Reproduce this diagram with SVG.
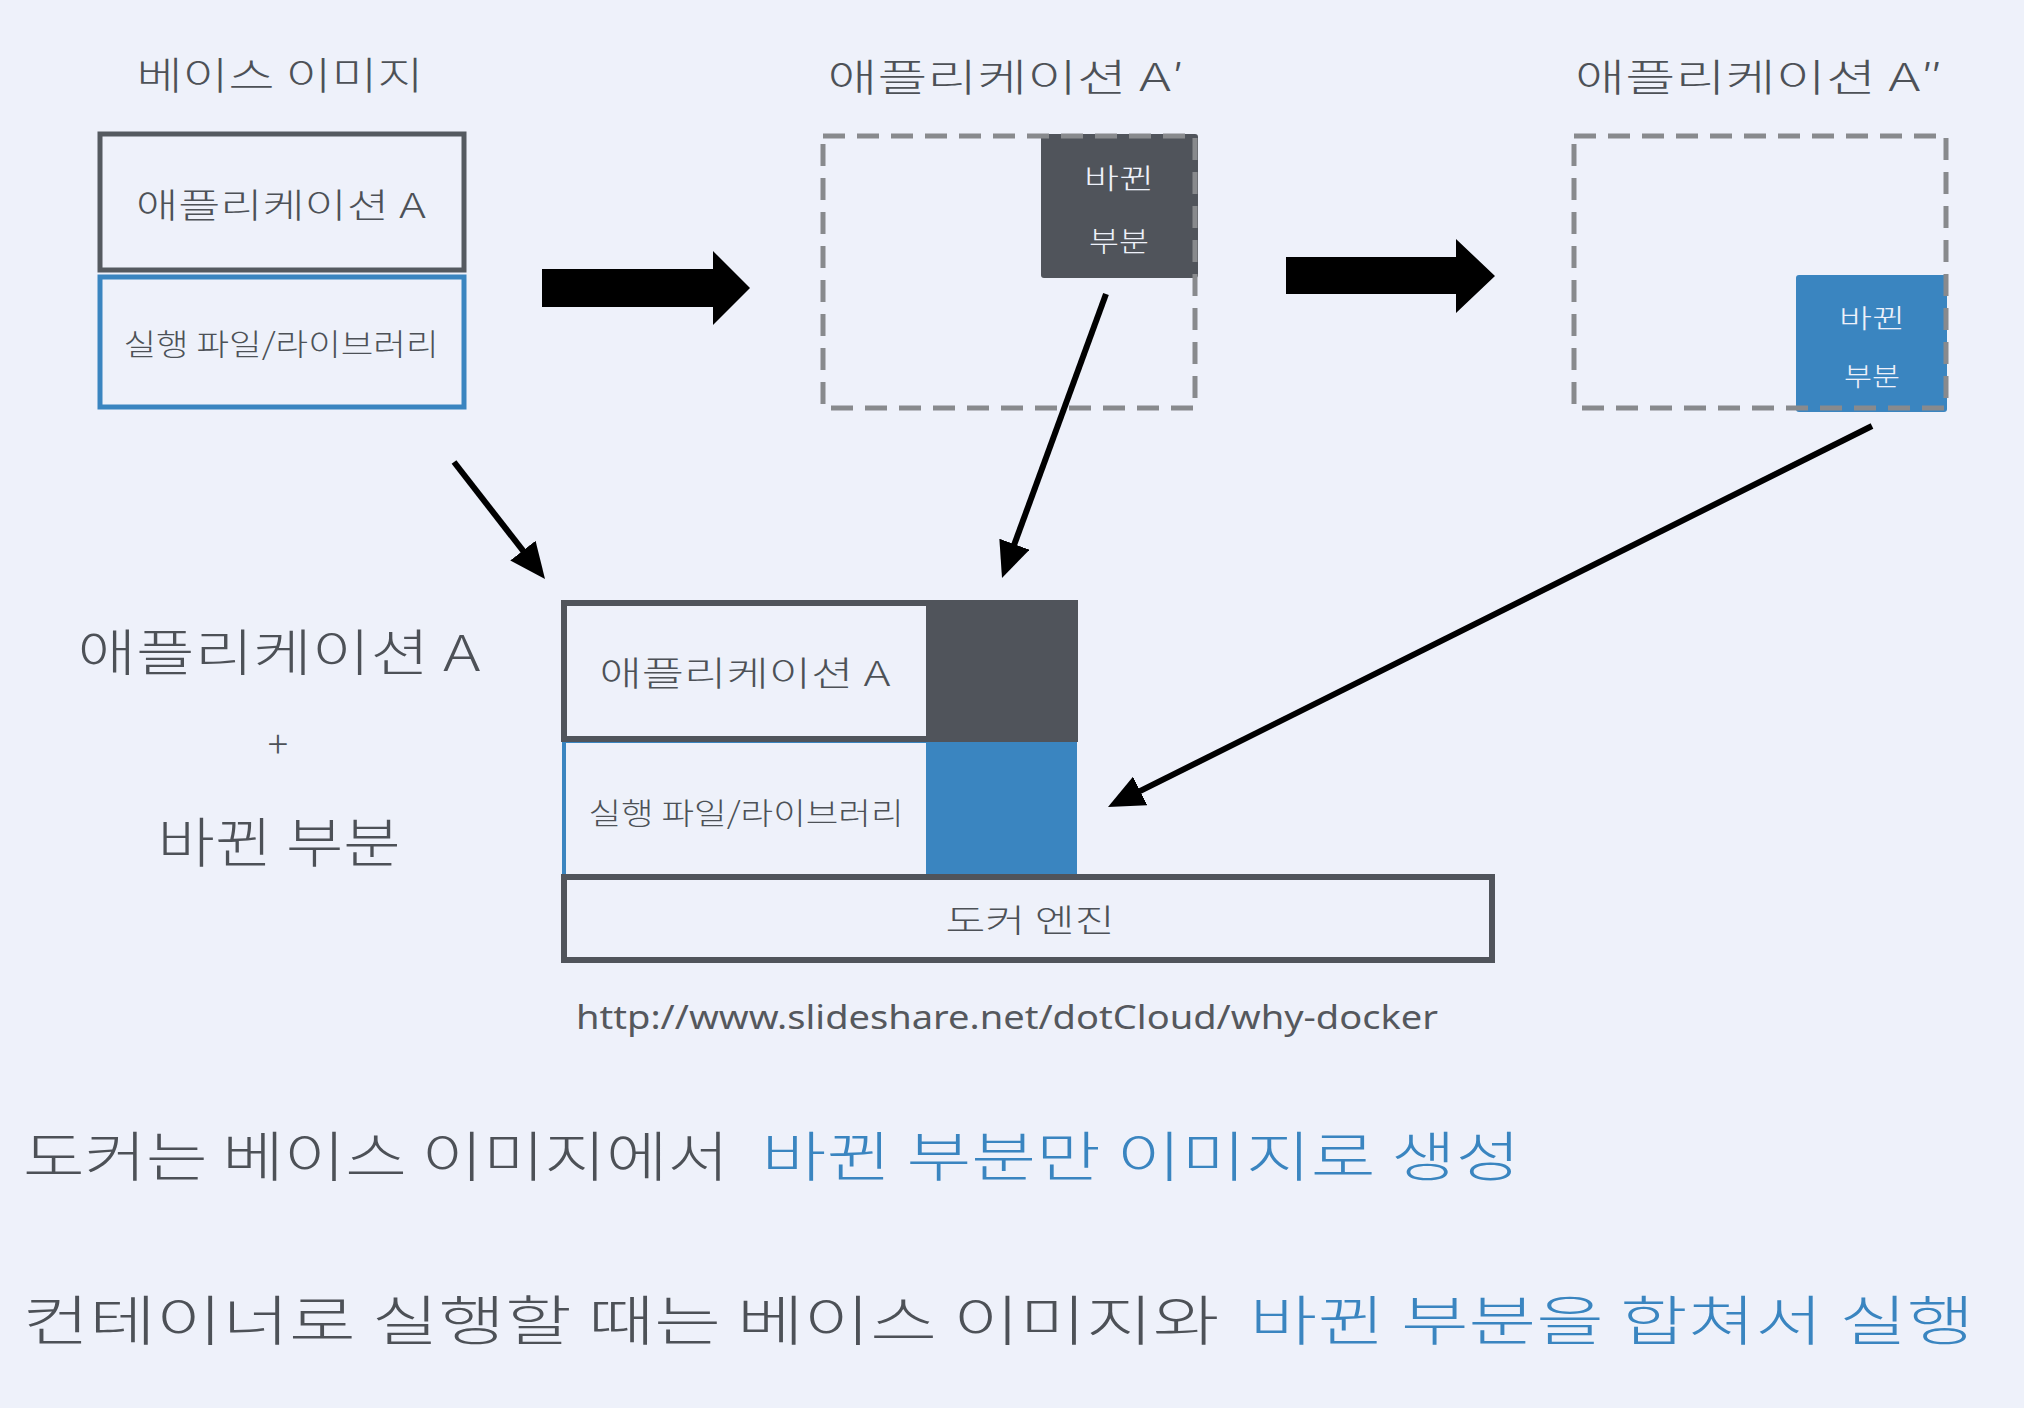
<svg xmlns="http://www.w3.org/2000/svg" width="2024" height="1408" viewBox="0 0 2024 1408">
<defs>
<style>
.hw{font-family:"Noto Sans CJK KR","Noto Sans",sans-serif;font-weight:300;fill:#4d5157;text-anchor:middle;dominant-baseline:central}
.bl{fill:#3a85c0}
.wt{fill:#eef1fa}
.dark{stroke:#50545b;stroke-width:6;fill:none}
.dash{stroke:#888a8d;stroke-width:5;fill:none;stroke-dasharray:22 12}
.thin{stroke:#000;stroke-width:6;fill:none}
</style>
<marker id="ah" markerUnits="userSpaceOnUse" markerWidth="38" markerHeight="32" refX="20" refY="16" orient="auto">
<path d="M0,0 L36,16 L0,32 z" fill="#000"/>
</marker>
</defs>
<rect width="2024" height="1408" fill="#eef1fa"/>

<g id="base-image">
<text class="hw" x="280" y="72" font-size="38" textLength="287" lengthAdjust="spacingAndGlyphs">베이스 이미지</text>
<rect x="100" y="134" width="364" height="136" fill="none" stroke="#555a60" stroke-width="5"/>
<text class="hw" x="281" y="203" font-size="34" textLength="290" lengthAdjust="spacingAndGlyphs">애플리케이션 A</text>
<rect x="100" y="277" width="364" height="130" fill="none" stroke="#3a85c0" stroke-width="5"/>
<text class="hw" x="281" y="342" font-size="30" textLength="315" lengthAdjust="spacingAndGlyphs">실행 파일/라이브러리</text>
</g>

<g id="app-a-prime">
<text class="hw" x="1006" y="74" font-size="38" textLength="357" lengthAdjust="spacingAndGlyphs">애플리케이션 A′</text>
<rect x="1041" y="134" width="157" height="144" rx="3" fill="#50545b"/>
<rect x="823" y="136" width="372" height="272" class="dash"/>
<text class="hw wt" x="1119" y="177" font-size="28" textLength="70" lengthAdjust="spacingAndGlyphs">바뀐</text>
<text class="hw wt" x="1119" y="240" font-size="28" textLength="60" lengthAdjust="spacingAndGlyphs">부분</text>
</g>

<g id="app-a-double-prime">
<text class="hw" x="1759" y="74" font-size="38" textLength="368" lengthAdjust="spacingAndGlyphs">애플리케이션 A″</text>
<rect x="1796" y="275" width="151" height="137" rx="3" fill="#3a85c0"/>
<rect x="1574" y="136" width="372" height="272" class="dash"/>
<text class="hw wt" x="1872" y="316" font-size="26" textLength="66" lengthAdjust="spacingAndGlyphs">바뀐</text>
<text class="hw wt" x="1872" y="374" font-size="26" textLength="56" lengthAdjust="spacingAndGlyphs">부분</text>
</g>

<g id="container-stack">
<rect x="564" y="741" width="511" height="135" fill="none" stroke="#3a85c0" stroke-width="4"/>
<rect x="926" y="741" width="151" height="135" fill="#3a85c0"/>
<rect x="926" y="601" width="151" height="139" fill="#50545b"/>
<rect x="564" y="603" width="511" height="136" class="dark"/>
<text class="hw" x="745" y="671" font-size="34" textLength="291" lengthAdjust="spacingAndGlyphs">애플리케이션 A</text>
<text class="hw" x="746" y="811" font-size="30" textLength="315" lengthAdjust="spacingAndGlyphs">실행 파일/라이브러리</text>
<rect x="564" y="877" width="928" height="83" class="dark"/>
<text class="hw" x="1030" y="918" font-size="32" textLength="169" lengthAdjust="spacingAndGlyphs">도커 엔진</text>
</g>

<g id="left-label">
<text class="hw" x="279" y="649" font-size="50" textLength="403" lengthAdjust="spacingAndGlyphs">애플리케이션 A</text>
<text class="hw" x="278" y="741" font-size="38">+</text>
<text class="hw" x="279" y="839" font-size="54" textLength="243" lengthAdjust="spacingAndGlyphs">바뀐 부분</text>
</g>

<g id="source">
<text x="1007" y="1016" font-family="Noto Sans, Liberation Sans, sans-serif" font-size="32" fill="#55585d" text-anchor="middle" dominant-baseline="central" textLength="862" lengthAdjust="spacingAndGlyphs">http://www.slideshare.net/dotCloud/why-docker</text>
</g>

<g id="summary">
<text class="hw" x="376" y="1153" font-size="54" textLength="706" lengthAdjust="spacingAndGlyphs">도커는 베이스 이미지에서</text>
<text class="hw bl" x="1141" y="1153" font-size="54" textLength="759" lengthAdjust="spacingAndGlyphs">바뀐 부분만 이미지로 생성</text>
<text class="hw" x="621" y="1317" font-size="54" textLength="1197" lengthAdjust="spacingAndGlyphs">컨테이너로 실행할 때는 베이스 이미지와</text>
<text class="hw bl" x="1612" y="1317" font-size="54" textLength="725" lengthAdjust="spacingAndGlyphs">바뀐 부분을 합쳐서 실행</text>
</g>

<g id="connectors">
<polygon points="542,269 713,269 713,251 750,288 713,325 713,307 542,307" fill="#000"/>
<polygon points="1286,257 1456,257 1456,239 1495,276 1456,313 1456,294 1286,294" fill="#000"/>
<line x1="454" y1="462" x2="535.2" y2="566.4" class="thin" marker-end="url(#ah)"/>
<line x1="1106" y1="294" x2="1007.5" y2="563" class="thin" marker-end="url(#ah)"/>
<line x1="1872" y1="426" x2="1122.3" y2="799.9" class="thin" marker-end="url(#ah)"/>
</g>
</svg>
